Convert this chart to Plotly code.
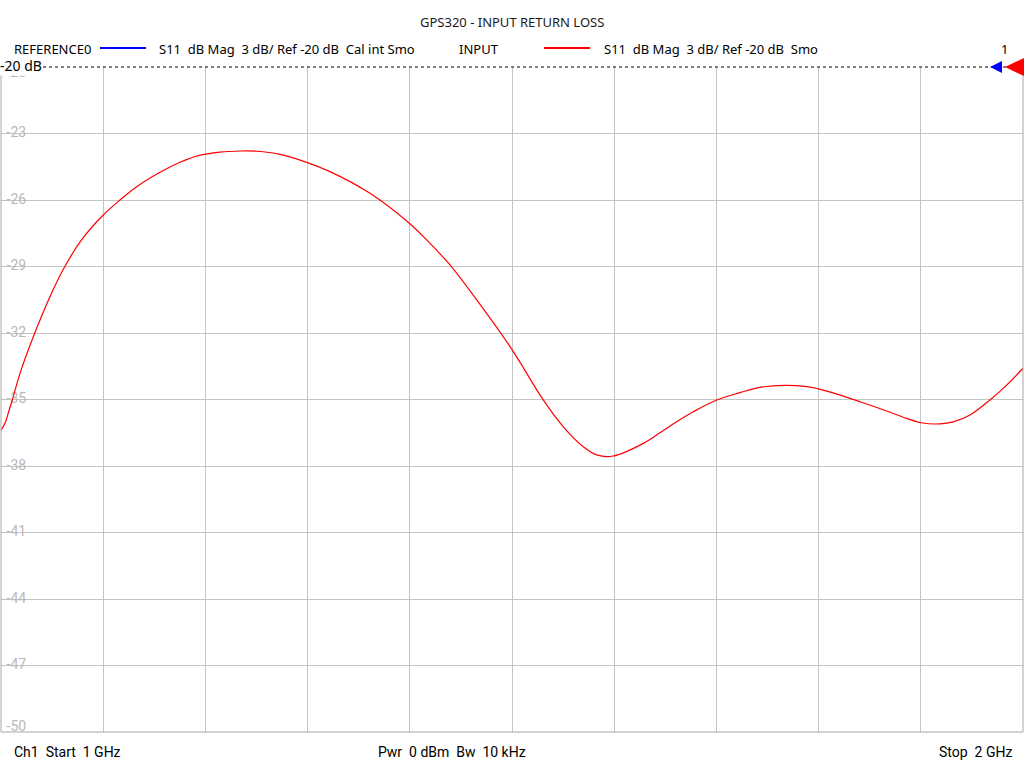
import plotly.graph_objects as go

# ---- data ----
freq_ghz = [1.0000, 1.0039, 1.0071, 1.0120, 1.0186, 1.0316, 1.0479, 1.0626, 1.0788, 1.0991,
            1.1164, 1.1328, 1.1556, 1.1751, 1.1931, 1.2143, 1.2339, 1.2502, 1.2730, 1.2991,
            1.3219, 1.3611, 1.3995, 1.4165, 1.4393, 1.4655, 1.5003, 1.5306, 1.5502,
            1.5698, 1.5829, 1.5991, 1.6285, 1.6448, 1.6611, 1.6774, 1.7003, 1.7231, 1.7427,
            1.7672, 1.7884, 1.7997, 1.8141, 1.8405, 1.8666, 1.8862, 1.9005, 1.9188, 1.9318,
            1.9481, 1.9677, 1.9840, 2.0000]
s11_db = [-36.38, -36.07, -35.62, -34.87, -33.82, -32.17, -30.36, -28.99, -27.80, -26.72,
          -26.00, -25.40, -24.75, -24.30, -24.00, -23.84, -23.79, -23.80, -23.94, -24.30,
          -24.72, -25.70, -27.05, -27.80, -28.93, -30.51, -32.77, -35.02, -36.23,
          -37.13, -37.50, -37.55, -36.98, -36.50, -36.00, -35.55, -35.02, -34.69, -34.45,
          -34.36, -34.42, -34.52, -34.70, -35.10, -35.52, -35.85, -36.05, -36.10, -36.01,
          -35.70, -35.02, -34.35, -33.59]
y_ticks = [-20, -23, -26, -29, -32, -35, -38, -41, -44, -47, -50]
x_start, x_stop = 1.0, 2.0

title_text = "GPS320 - INPUT RETURN LOSS"
nb = "\u00a0"
legend1_name = "REFERENCE0"
legend1_desc = f"S11{nb}{nb}dB{nb}Mag{nb}{nb}3{nb}dB/{nb}Ref{nb}-20{nb}dB{nb}{nb}Cal{nb}int{nb}Smo"
legend2_name = "INPUT"
legend2_desc = f"S11{nb}{nb}dB{nb}Mag{nb}{nb}3{nb}dB/{nb}Ref{nb}-20{nb}dB{nb}{nb}Smo"
footer_left = f"Ch1{nb}{nb}Start{nb}{nb}1{nb}GHz"
footer_mid = f"Pwr{nb}{nb}0{nb}dBm{nb}{nb}Bw{nb}{nb}10{nb}kHz"
footer_right = f"Stop{nb}{nb}2{nb}GHz"

W, H = 1024, 768
ML, MR, MT, MB = 1, 1, 67, 36
PW = W - ML - MR
PH = H - MT - MB

def px_x(p):  # pixel -> paper x
    return (p - ML) / PW

def px_y(p):  # pixel -> paper y
    return 1 - (p - MT) / PH

grid_col = "#c4c4c4"
tick_col = "#b8b8b8"
hdr_font = "Noto Sans, Open Sans, DejaVu Sans, sans-serif"
cond_font = "Liberation Sans Narrow, Roboto, sans-serif"

fig = go.Figure()

# y tick labels, drawn beneath the curve (as in the analyser screen)
lbl_y = []
for v in y_ticks:
    if v == y_ticks[0]:
        lbl_y.append(v - 0.3)
    elif v == y_ticks[-1]:
        lbl_y.append(v + 0.2)
    else:
        lbl_y.append(v)
fig.add_trace(go.Scatter(x=[x_start + 0.0055] * len(y_ticks), y=lbl_y,
                         text=[str(v) for v in y_ticks], mode="text",
                         textposition="middle right",
                         textfont=dict(family=cond_font, size=14, color=tick_col),
                         hoverinfo="skip", showlegend=False, cliponaxis=False))

fig.add_trace(go.Scatter(x=freq_ghz, y=s11_db, mode="lines",
                         line=dict(color="#ff0000", width=1.2, shape="spline", smoothing=1.0),
                         hoverinfo="skip", showlegend=False))

shapes = []
# white gaps in the grid lines behind the tick labels
for v in y_ticks[1:-1]:
    shapes.append(dict(type="rect", xref="paper", yref="y", x0=px_x(7), x1=px_x(31),
                       y0=v - 0.2, y1=v + 0.2, fillcolor="#ffffff",
                       line=dict(width=0), layer="between"))
# borders: left, bottom, right
shapes.append(dict(type="line", xref="paper", yref="paper", x0=0, x1=0, y0=0, y1=1,
                   line=dict(color="#a8a8a8", width=1)))
shapes.append(dict(type="line", xref="paper", yref="paper", x0=0, x1=1, y0=0, y1=0,
                   line=dict(color="#a8a8a8", width=1)))
shapes.append(dict(type="line", xref="paper", yref="paper", x0=1, x1=1, y0=0, y1=1,
                   line=dict(color="#a8a8a8", width=1)))
# reference dotted line at top
shapes.append(dict(type="line", xref="paper", yref="paper", x0=0, x1=1, y0=1, y1=1,
                   line=dict(color="#000000", width=1, dash="dot"), layer="above"))
# legend lines
shapes.append(dict(type="line", xref="paper", yref="paper", x0=px_x(100), x1=px_x(146),
                   y0=px_y(48), y1=px_y(48), line=dict(color="#0000ff", width=2)))
shapes.append(dict(type="line", xref="paper", yref="paper", x0=px_x(544), x1=px_x(590),
                   y0=px_y(48), y1=px_y(48), line=dict(color="#ff0000", width=2)))
# reference markers (triangles pointing left)
def tri(xl, xr, yc, h):
    return (f"M {px_x(xl)} {px_y(yc)} L {px_x(xr)} {px_y(yc - h)} "
            f"L {px_x(xr)} {px_y(yc + h)} Z")
shapes.append(dict(type="path", xref="paper", yref="paper", path=tri(990, 1002, 67, 6),
                   fillcolor="#0000ff", line=dict(width=0), layer="above"))
shapes.append(dict(type="path", xref="paper", yref="paper", path=tri(1005, 1024, 67, 9),
                   fillcolor="#ff0000", line=dict(width=0), layer="above"))

ann = []
ann.append(dict(x=0, xref="paper", y=-20, yref="y", text="-20 dB", showarrow=False,
                xanchor="left", yanchor="bottom", xshift=-2, yshift=-9,
                font=dict(family=hdr_font, size=14, color="#000000"),
                bgcolor="#ffffff", borderpad=0))
ann.append(dict(x=px_x(512), xref="paper", y=px_y(22), yref="paper", text=title_text,
                showarrow=False, xanchor="center", yanchor="middle",
                font=dict(family=hdr_font, size=13, color="#1a1a1a")))
ann.append(dict(x=px_x(12), xref="paper", y=px_y(49), yref="paper", text=legend1_name,
                showarrow=False, xanchor="left", yanchor="middle",
                font=dict(family=hdr_font, size=13, color="#000000")))
ann.append(dict(x=px_x(157), xref="paper", y=px_y(49), yref="paper", text=legend1_desc,
                showarrow=False, xanchor="left", yanchor="middle",
                font=dict(family=hdr_font, size=13, color="#000000")))
ann.append(dict(x=px_x(457), xref="paper", y=px_y(49), yref="paper", text=legend2_name,
                showarrow=False, xanchor="left", yanchor="middle",
                font=dict(family=hdr_font, size=13, color="#000000")))
ann.append(dict(x=px_x(602), xref="paper", y=px_y(49), yref="paper", text=legend2_desc,
                showarrow=False, xanchor="left", yanchor="middle",
                font=dict(family=hdr_font, size=13, color="#000000")))
ann.append(dict(x=px_x(1004), xref="paper", y=px_y(49), yref="paper", text="1",
                showarrow=False, xanchor="center", yanchor="middle",
                font=dict(family=hdr_font, size=13, color="#000000")))
ann.append(dict(x=px_x(12), xref="paper", y=px_y(752), yref="paper", text=footer_left,
                showarrow=False, xanchor="left", yanchor="middle",
                font=dict(family=cond_font, size=14, color="#000000")))
ann.append(dict(x=px_x(452), xref="paper", y=px_y(752), yref="paper", text=footer_mid,
                showarrow=False, xanchor="center", yanchor="middle",
                font=dict(family=cond_font, size=14, color="#000000")))
ann.append(dict(x=px_x(1014), xref="paper", y=px_y(752), yref="paper", text=footer_right,
                showarrow=False, xanchor="right", yanchor="middle",
                font=dict(family=cond_font, size=14, color="#000000")))

fig.update_layout(
    width=W, height=H,
    margin=dict(l=ML, r=MR, t=MT, b=MB, pad=0),
    paper_bgcolor="#ffffff", plot_bgcolor="#ffffff",
    showlegend=False,
    xaxis=dict(range=[x_start, x_stop], dtick=0.1, tick0=1.0, showgrid=True,
               gridcolor=grid_col, gridwidth=1, showticklabels=False, zeroline=False,
               showline=False, ticks="", fixedrange=True),
    yaxis=dict(range=[-50, -20], dtick=3, tick0=-50, showgrid=True,
               gridcolor=grid_col, gridwidth=1, showticklabels=False, zeroline=False,
               showline=False, ticks="", fixedrange=True),
    shapes=shapes,
    annotations=ann,
)

fig.write_html("out.html", config={"displayModeBar": False},
               post_script="document.body.style.margin='0';document.body.style.overflow='hidden';")
